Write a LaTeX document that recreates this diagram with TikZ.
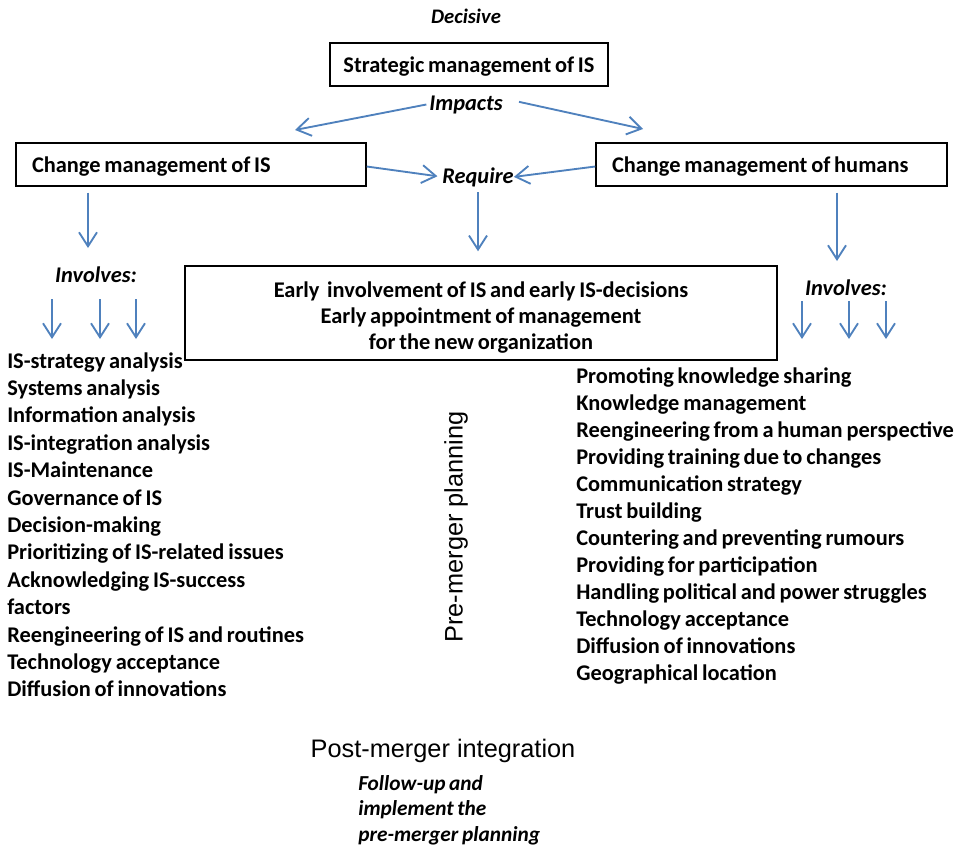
\documentclass[tikz,border=0pt]{standalone}
\usepackage{fontspec}
\setmainfont{Carlito}[WordSpace=0.75]
\newfontfamily\arialfont{Liberation Sans}
\usetikzlibrary{arrows.meta}
\definecolor{arrowblue}{HTML}{4F81BD}
\begin{document}
\begin{tikzpicture}[x=0.75pt,y=-0.75pt,
  txt/.style={font=\bfseries\fontsize{16.8}{20}\selectfont, inner sep=0pt},
  itxt/.style={font=\bfseries\itshape\fontsize{16.8}{20}\selectfont, inner sep=0pt},
  plain/.style={font=\arialfont\fontsize{19}{23}\selectfont, inner sep=0pt},
  box/.style={draw, line width=1.1pt, inner ysep=0pt,
    font=\bfseries\fontsize{16.8}{20}\selectfont},
  onebox/.style={box, text height=12pt, text depth=0pt},
  arr/.style={draw=arrowblue, line width=1.4pt,
    -{Straight Barb[length=10.5pt,width=13.5pt,line width=1.4pt]}}]
\useasboundingbox (0,0) rectangle (971,860);

% --- boxes ---
\node[onebox, minimum width=208.5pt, minimum height=32.25pt] (strat) at (469,64.5)
  {Strategic management of IS};
\node[onebox, minimum height=32.25pt, inner xsep=12pt, text width=238.5pt, align=flush left]
  (cis) at (191,164.5) {Change management of IS};
\node[onebox, minimum height=32.25pt, inner xsep=12pt, text width=239.25pt, align=flush left]
  (cmh) at (771.5,164.5) {Change management of humans};
% the strut on the first line lowers the three lines a little inside the box
\node[box, minimum width=444pt, minimum height=70.5pt, align=center,
  font=\bfseries\fontsize{16.8}{19.5}\selectfont] (mid) at (481,313)
  {\rule{0pt}{18.5pt}Early\ \ involvement of IS and early IS-decisions\\
   Early appointment of management\\
   for the new organization};

% --- italic labels ---
\node[itxt, anchor=base, font=\bfseries\itshape\fontsize{15.5}{19}\selectfont]
  (decisive) at (466,23) {Decisive};
\node[itxt, anchor=base] (impacts) at (466,110) {Impacts};
\node[itxt, anchor=base] (require) at (478,183) {Require};
\node[itxt, anchor=base] (invL) at (96,282) {Involves:};
\node[itxt, anchor=base] (invR) at (846,295) {Involves:};
\node[itxt, anchor=north west, align=left,
  font=\bfseries\itshape\fontsize{16}{19.1}\selectfont] (follow) at (358,775)
  {Follow-up and\\implement the\\pre-merger planning};

% --- phase labels ---
\node[plain, rotate=90] (pre) at (456,527) {Pre-merger planning};
\node[plain, anchor=base] (post) at (443,757) {Post-merger integration};

% --- connectors ---
\coordinate (impL) at (295,130);
\coordinate (impR) at (643,129);
\draw[arr] ([xshift=-2pt]impacts.west) -- (impL);
\draw[arr] ([xshift=12pt,yshift=2pt]impacts.east) -- (impR);

\draw[arr, shorten >=3.5pt] ([yshift=-1.5pt]cis.east) -- (require.west);
\draw[arr] ([yshift=-1.5pt]cmh.west) -- (require.east);
\draw[arr, shorten <=4pt, shorten >=10.5pt] (require.south) -- (require.south |- mid.north);

\coordinate (cisx) at (88,0);
\coordinate (cmhx) at (837,0);
\draw[arr, shorten <=4.5pt, shorten >=13.5pt] (cis.south -| cisx) -- (invL.north -| cisx);
\draw[arr, shorten <=4.5pt, shorten >=13.5pt] (cmh.south -| cmhx) -- (invR.north -| cmhx);

\foreach \x [count=\k] in {52,100,136} {
  \coordinate (tL\k) at (\x,339);
  \draw[arr, shorten <=12.75pt] (invL.south -| tL\k) -- (tL\k);
}
\foreach \x [count=\k] in {802,849,886} {
  \coordinate (tR\k) at (\x,339);
  \draw[arr, shorten <=4.5pt] (invR.south -| tR\k) -- (tR\k);
}

% --- lists ---
\foreach \t [count=\i] in {IS-strategy analysis, Systems analysis, Information analysis,
    IS-integration analysis, IS-Maintenance, Governance of IS, Decision-making,
    Prioritizing of IS-related issues, Acknowledging IS-success, factors,
    Reengineering of IS and routines, Technology acceptance, Diffusion of innovations}
  \node[txt, anchor=base west] (left\i) at (7,{368+27.4*(\i-1)}) {\t};

\foreach \t [count=\i] in {Promoting knowledge sharing, Knowledge management,
    Reengineering from a human perspective, Providing training due to changes,
    Communication strategy, Trust building, Countering and preventing rumours,
    Providing for participation, Handling political and power struggles,
    Technology acceptance, Diffusion of innovations, Geographical location}
  \node[txt, anchor=base west] (right\i) at (576,{383+27*(\i-1)}) {\t};
\end{tikzpicture}
\end{document}
